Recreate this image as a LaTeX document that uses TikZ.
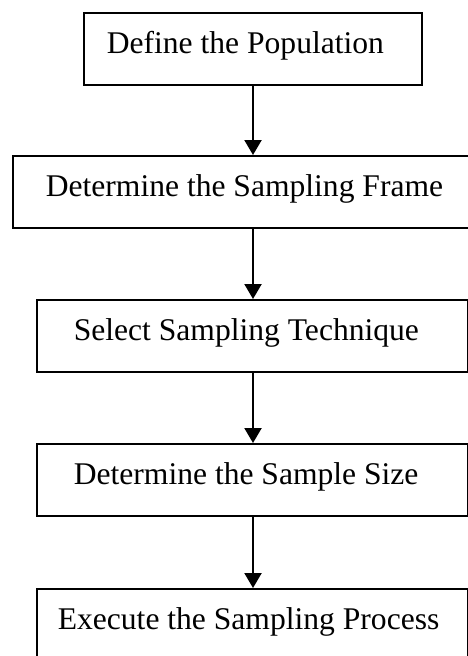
\documentclass[tikz,border=0pt]{standalone}
\usepackage{fontspec}
\setmainfont{Liberation Serif}
\usepackage{tikz}
\usetikzlibrary{arrows.meta}

\tikzset{
    stage/.style={draw,line width=1.6bp,anchor=north west,
        font=\fontsize{31.7}{38}\selectfont,
        text height=21bp,text depth=11bp,inner ysep=20bp},
    flow/.style={-{Triangle[length=15bp,width=17bp]},line width=2.2bp}
}

\begin{document}
\begin{tikzpicture}[x=1bp,y=-1bp]
        \clip (0,0) rectangle (468,656);
        \node[stage,inner xsep=23bp] (population) at (83,12) {\makebox[292bp][l]{Define the Population}};
        \node[stage,inner xsep=33bp] (frame) at (12,155) {\makebox[424bp][l]{Determine the Sampling Frame}};
        \node[stage,inner xsep=37bp] (technique) at (36,299) {\makebox[357bp][l]{Select Sampling Technique}};
        \node[stage,inner xsep=37bp] (size) at (36,443) {\makebox[357bp][l]{Determine the Sample Size}};
        \node[stage,inner xsep=21bp] (execute) at (36,588) {\makebox[389bp][l]{Execute the Sampling Process}};

        \coordinate (axis) at (253,0);
        \draw[flow] (axis |- population.south) -- (axis |- frame.north);
        \draw[flow] (axis |- frame.south) -- (axis |- technique.north);
        \draw[flow] (axis |- technique.south) -- (axis |- size.north);
        \draw[flow] (axis |- size.south) -- (axis |- execute.north);
    \end{tikzpicture}
\end{document}
